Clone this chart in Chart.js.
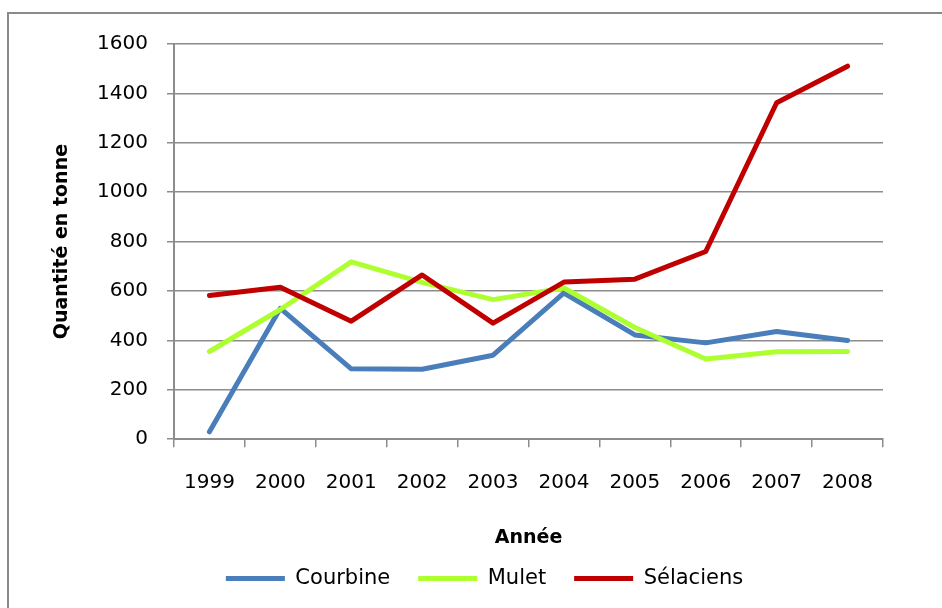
<!DOCTYPE html>
<html>
<head>
<meta charset="utf-8">
<script src="https://cdn.jsdelivr.net/npm/chart.js@4.4.1/dist/chart.umd.min.js"></script>
<style>
  html, body { margin: 0; padding: 0; background: #fff; }
  #wrap { position: relative; width: 942px; height: 608px; overflow: hidden; }
  /* grey frame around the whole chart, right and bottom edges fall outside */
  #frame { position: absolute; left: 7px; top: 12px; width: 980px; height: 640px;
           border: 2px solid #8a8a8a; box-sizing: border-box; }
  canvas { position: absolute; left: 0; top: 0; }
</style>
</head>
<body>
<div id="wrap">
  <div id="frame"></div>
  <canvas id="catchChart" width="942" height="608"></canvas>
</div>
<script>
// Catches per year (tonnes)
const years = ['1999', '2000', '2001', '2002', '2003', '2004', '2005', '2006', '2007', '2008'];
const courbine = [30, 530, 285, 283, 340, 592, 422, 390, 436, 400];
const mulet = [355, 525, 718, 635, 565, 612, 452, 325, 354, 355];
const selaciens = [582, 615, 478, 665, 470, 636, 648, 760, 1362, 1510];
const yMax = 1600;
const yStep = 200;

const gridGrey = '#8c8c8c';
const font = 'DejaVu Sans';

// Chart.js centres the legend on the layout box; shift it a little right and up
const nudgeLegend = {
    id: 'nudgeLegend',
    afterLayout(chart) {
        const lg = chart.legend;
        if (!lg) return;
        lg.left += 28;
        lg.right += 28;
        lg.top -= 9;
        lg.bottom -= 9;
    }
};

function initCatchChart() {
    const ctx = document.getElementById('catchChart');
    const line = (label, data, color, order) => ({
        label: label,
        data: data,
        borderColor: color,
        backgroundColor: color,
        borderWidth: 5,
        borderCapStyle: 'round',
        borderJoinStyle: 'round',
        pointRadius: 0,
        tension: 0,
        fill: false,
        order: order
    });

    new Chart(ctx, {
        type: 'line',
        data: {
            labels: years,
            datasets: [
                line('Courbine', courbine, '#4a7ebb', 3),
                line('Mulet', mulet, '#adff2f', 2),
                line('Sélaciens', selaciens, '#c00000', 1)
            ]
        },
        options: {
            responsive: false,
            animation: false,
            devicePixelRatio: 1,
            layout: { padding: { left: 30, right: 59, top: 44, bottom: 0 } },
            plugins: {
                tooltip: { enabled: false },
                legend: {
                    position: 'bottom',
                    labels: {
                        usePointStyle: true,
                        pointStyle: 'line',
                        pointStyleWidth: 59,
                        boxHeight: 5,
                        padding: 28,
                        color: '#000',
                        font: { family: font, size: 21 },
                        sort: (a, b) => a.datasetIndex - b.datasetIndex
                    }
                }
            },
            scales: {
                x: {
                    type: 'category',
                    offset: true,
                    grid: {
                        offset: true,
                        drawOnChartArea: false,
                        tickLength: 8,
                        color: gridGrey,
                        lineWidth: 1.5
                    },
                    border: { color: gridGrey, width: 2 },
                    ticks: {
                        padding: 24,
                        color: '#000',
                        maxRotation: 0,
                        autoSkip: false,
                        font: { family: font, size: 20 }
                    },
                    title: {
                        display: true,
                        text: 'Année',
                        color: '#000',
                        padding: { top: 7, bottom: 0 },
                        font: { family: font, size: 19, weight: 'bold' }
                    }
                },
                y: {
                    min: 0,
                    max: yMax,
                    grid: {
                        tickLength: 7,
                        color: gridGrey,
                        lineWidth: 1.5
                    },
                    border: { color: gridGrey, width: 2 },
                    ticks: {
                        stepSize: yStep,
                        padding: 19,
                        color: '#000',
                        font: { family: font, size: 20 },
                        callback: (value) => String(value)
                    },
                    title: {
                        display: true,
                        text: 'Quantité en tonne',
                        color: '#000',
                        padding: { top: 21, bottom: 0 },
                        font: { family: font, size: 19, weight: 'bold' }
                    },
                    afterFit(scale) {
                        scale.width = 144;
                    }
                }
            }
        },
        plugins: [nudgeLegend]
    });
}

document.addEventListener('DOMContentLoaded', initCatchChart);
</script>
</body>
</html>
